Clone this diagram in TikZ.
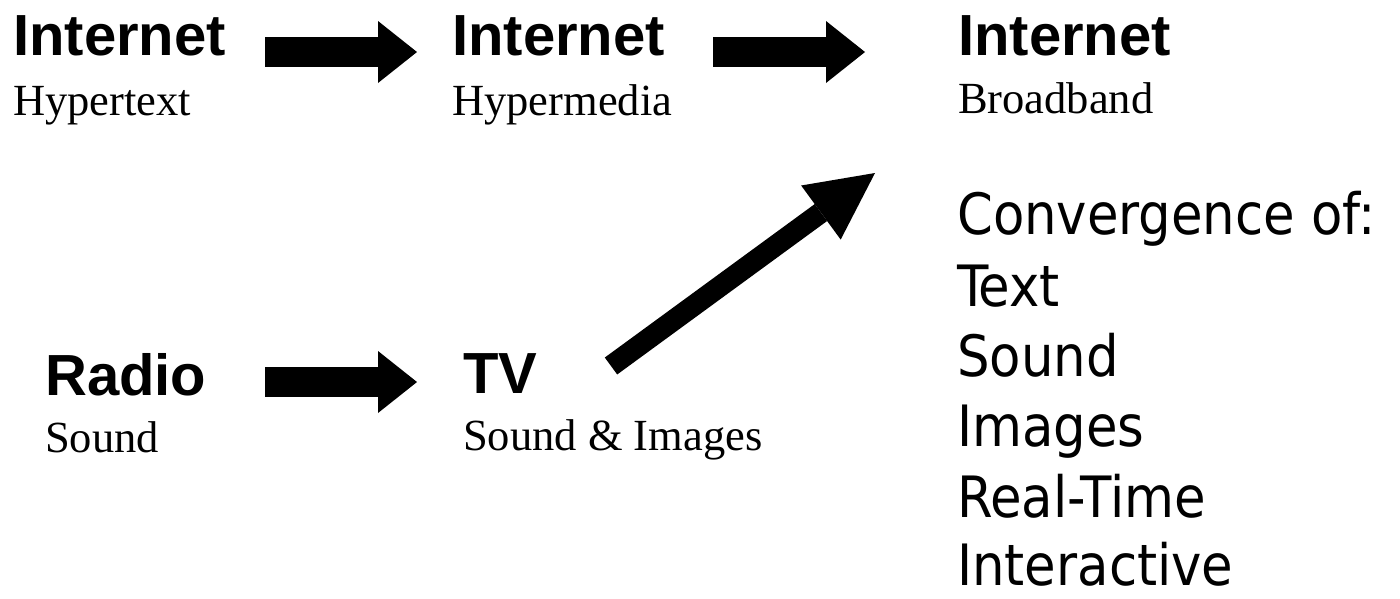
\documentclass[tikz,border=0pt]{standalone}
\usepackage{fontspec}
\setmainfont{Liberation Serif}
\newfontfamily\headfont{Liberation Sans}
\newfontfamily\listfont{DejaVu Sans Condensed}
\usetikzlibrary{arrows.meta}
\tikzset{
  head/.style={inner sep=0pt, anchor=base west, font=\headfont\bfseries\fontsize{58}{60}\selectfont},
  sub/.style={inner sep=0pt, anchor=base west, font=\fontsize{44.5}{50}\selectfont},
  item/.style={inner sep=0pt, anchor=base west, text depth=0pt, font=\listfont\fontsize{57}{70}\selectfont},
  fatarrow/.style={line width=30pt, -{Triangle[length=39pt,width=62pt,line width=0pt]}},
  diagarrow/.style={line width=21pt, -{Triangle[length=67pt,width=67pt,line width=0pt]}}
}
\begin{document}
\begin{tikzpicture}[x=1pt,y=-1pt]
\useasboundingbox (0,0) rectangle (1400,598);
% top row
\node[head] (i1) at (13,55) {Internet};
\node[sub]  (h1) at (13,115) {Hypertext};
\node[head] (i2) at (452,55) {Internet};
\node[sub]  (h2) at (452,115) {Hypermedia};
\node[head] (i3) at (958,55) {Internet};
\node[sub]  (h3) at (958,113) {Broadband};
% bottom row
\node[head] (r) at (45,395) {Radio};
\node[sub]  (rs) at (45,452) {Sound};
\node[head] (tv) at (463,393) {TV};
\node[sub]  (tvs) at (463,450) {Sound \& Images};
% list
\node[item] (l0) at (957,234) {Convergence of:};
\node[item] (l1) at (957,306) {Text};
\node[item] (l2) at (957,376) {Sound};
\node[item] (l3) at (957,446) {Images};
\node[item] (l4) at (957,517) {Real-Time};
\node[item] (l5) at (957,585) {Interactive};
% arrows
\coordinate (a1s) at (265,52);
\coordinate (a1e) at (417,52);
\coordinate (a2s) at (713,52);
\coordinate (a2e) at (865,52);
\coordinate (a3s) at (265,382);
\coordinate (a3e) at (417,382);
\coordinate (a4s) at (611,366);
\coordinate (a4e) at (875,173);
\draw[fatarrow] (a1s) -- (a1e);
\draw[fatarrow] (a2s) -- (a2e);
\draw[fatarrow] (a3s) -- (a3e);
\draw[diagarrow] (a4s) -- (a4e);
\end{tikzpicture}
\end{document}
